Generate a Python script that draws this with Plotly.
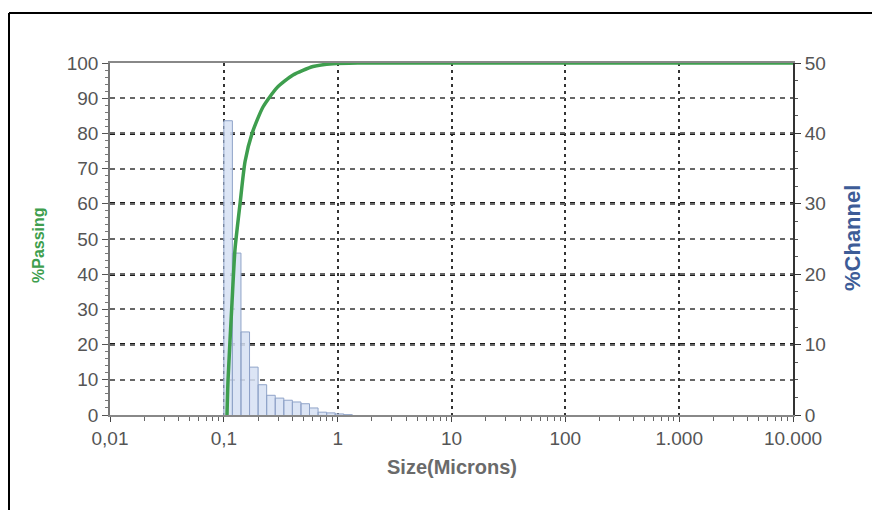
import plotly.graph_objects as go

# ---- data ----
# channel bin edges (microns) and % channel per bin
bin_edges = [0.1, 0.1189, 0.1414, 0.1682, 0.2, 0.2378, 0.2828, 0.3364, 0.4,
             0.4757, 0.5657, 0.6727, 0.8, 0.9514, 1.131, 1.345]
channel_pct = [41.8, 23.0, 11.8, 6.8, 4.3, 2.8, 2.4, 2.1, 1.85, 1.6, 1.0, 0.4,
               0.3, 0.15, 0.05]

# cumulative % passing curve
pass_size = [0.1066, 0.1089, 0.118, 0.1253, 0.1388, 0.1536, 0.177, 0.2208,
             0.2933, 0.4055, 0.608, 0.912, 1.5, 10000]
pass_pct = [0, 10, 32, 47, 60, 72, 80, 87.5, 93, 96.6, 99, 99.8, 100, 100]

x_tickvals = [0.01, 0.1, 1, 10, 100, 1000, 10000]
x_ticktext = ["0,01", "0,1", "1", "10", "100", "1.000", "10.000"]
left_ticks = [0, 10, 20, 30, 40, 50, 60, 70, 80, 90, 100]
right_ticks = [0, 10, 20, 30, 40, 50]

# ---- build histogram outline path from bins ----
hx, hy = [], []
for i, h in enumerate(channel_pct):
    a, b = bin_edges[i], bin_edges[i + 1]
    hx += [a, a, b, b]
    hy += [0, h, h, 0]

fig = go.Figure()
# bars on the base (right, %Channel) axis
fig.add_trace(go.Scatter(
    x=hx, y=hy, yaxis="y", mode="lines", fill="tozeroy",
    line=dict(color="#8fa3c8", width=1),
    fillcolor="rgba(214,225,243,0.85)",
    hoverinfo="skip", showlegend=False))
# passing curve on the overlaying (left, %Passing) axis -> drawn on top
fig.add_trace(go.Scatter(
    x=pass_size, y=pass_pct, yaxis="y2", mode="lines",
    line=dict(color="#3e9e4e", width=3.5, shape="spline", smoothing=0.6),
    showlegend=False))

# page body has an 8px margin; plot area target: x 110..793, y 63..415
W, H = 872, 502
PL, PR, PT, PB = 110, 793, 63, 415
font_fam = "Liberation Sans, Arial, sans-serif"
tick_font = dict(family=font_fam, size=19, color="#555555")


def px_x(x):
    return (x - PL) / (PR - PL)


def px_y(y):
    return (PB - y) / (PB - PT)


fig.update_layout(
    width=W, height=H,
    margin=dict(l=PL - 8, r=(W + 8) - PR, t=PT - 8, b=(H + 8) - PB),
    paper_bgcolor="white", plot_bgcolor="white",
    separators=",.",
    xaxis=dict(
        type="log", range=[-2, 4],
        tickmode="array", tickvals=x_tickvals, ticktext=x_ticktext,
        tickfont=tick_font, ticks="outside", ticklen=5, tickcolor="#444",
        showline=True, linecolor="#888888", linewidth=1.5, mirror=True,
        showgrid=True, gridcolor="#333333", gridwidth=2, griddash="3px,4px",
        zeroline=False,
        minor=dict(ticks="outside", ticklen=4, tickcolor="#666",
                   tickvals=[v * m for v in x_tickvals[:-1] for m in range(2, 10)],
                   showgrid=False),
    ),
    yaxis=dict(
        range=[0, 50], side="right",
        tickmode="array", tickvals=right_ticks,
        tickfont=tick_font, ticks="outside", ticklen=6, tickcolor="#333",
        showline=True, linecolor="#333333", linewidth=2,
        showgrid=True, gridcolor="#1a1a1a", gridwidth=2.5, griddash="5px,5px",
        zeroline=False,
        minor=dict(ticks="outside", ticklen=3, dtick=2.5, tickcolor="#555",
                   showgrid=False),
    ),
    yaxis2=dict(
        range=[0, 100], overlaying="y", side="left",
        tickmode="array", tickvals=left_ticks,
        tickfont=tick_font, ticks="outside", ticklen=6, tickcolor="#555",
        showline=True, linecolor="#777777", linewidth=1.5,
        showgrid=True, gridcolor="#666666", gridwidth=1.5, griddash="5px,5px",
        zeroline=False,
        minor=dict(ticks="outside", ticklen=3, dtick=2, tickcolor="#777",
                   showgrid=False),
    ),
    annotations=[
        dict(text="<b>Size(Microns)</b>", xref="paper", yref="paper",
             x=px_x(452), y=px_y(467), showarrow=False,
             xanchor="center", yanchor="middle",
             font=dict(family=font_fam, size=20, color="#6a6a6a")),
        dict(text="<b>%Passing</b>", xref="paper", yref="paper",
             x=px_x(38), y=px_y(245), showarrow=False, textangle=-90,
             xanchor="center", yanchor="middle",
             font=dict(family=font_fam, size=16, color="#3e9e4e")),
        dict(text="<b>%Channel</b>", xref="paper", yref="paper",
             x=px_x(852), y=px_y(238), showarrow=False, textangle=-90,
             xanchor="center", yanchor="middle",
             font=dict(family=font_fam, size=22, color="#3d5c97")),
    ],
    shapes=[
        dict(type="line", xref="paper", yref="paper",
             x0=px_x(9), x1=px_x(880),
             y0=px_y(13), y1=px_y(13),
             line=dict(color="black", width=2)),
        dict(type="line", xref="paper", yref="paper",
             x0=px_x(9), x1=px_x(9),
             y0=px_y(13), y1=px_y(515),
             line=dict(color="black", width=2)),
    ],
)

fig.write_html("out.html")
